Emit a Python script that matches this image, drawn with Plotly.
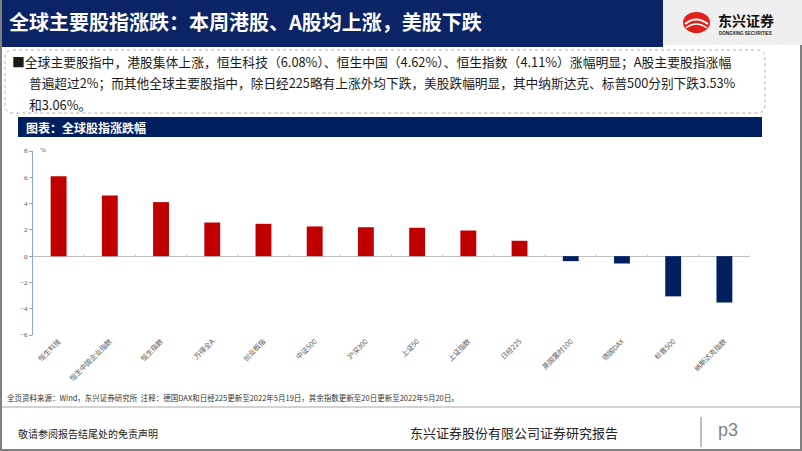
import plotly.graph_objects as go

categories = ["恒生科技", "恒生中国企业指数", "恒生指数", "万得全A", "创业板指", "中证500",
              "沪深300", "上证50", "上证指数", "日经225", "英国富时100", "德国DAX", "标普500", "纳斯达克指数"]
changes = [6.08, 4.62, 4.11, 2.56, 2.46, 2.26, 2.20, 2.16, 1.95, 1.17, -0.38, -0.56, -3.06, -3.53]
y_ticks = [-6, -4, -2, 0, 2, 4, 6, 8]

RED = "#C00000"
NAVY = "#002060"
W, H = 802, 451
L, R, T, B = 33, 52, 151, 116
PW, PH = W - L - R, H - T - B

def px(x):
    return (x - L) / PW

def py(y):
    return (H - B - y) / PH

CJK = "Noto Sans CJK SC"
SERIF = "Liberation Serif"

colors = [RED if v >= 0 else NAVY for v in changes]

fig = go.Figure()
fig.add_trace(go.Bar(x=categories, y=changes, marker=dict(color=colors, line=dict(width=0)),
                     width=0.31, hoverinfo="x+y"))

shapes = []
annotations = []

# header band
shapes.append(dict(type="rect", xref="paper", yref="paper", x0=px(0), x1=px(663), y0=py(47), y1=py(0),
                   fillcolor="#0B2466", line=dict(width=0), layer="below"))
shapes.append(dict(type="rect", xref="paper", yref="paper", x0=px(663), x1=px(802), y0=py(45), y1=py(0),
                   fillcolor="#EFEFEF", line=dict(width=0), layer="below"))
annotations.append(dict(text="<b>全球主要股指涨跌：本周港股、A股均上涨，美股下跌</b>", xref="paper", yref="paper",
                        x=px(7), y=py(21), xanchor="left", yanchor="middle", showarrow=False,
                        font=dict(family=CJK, size=20, color="white")))
# logo
shapes.append(dict(type="circle", xref="paper", yref="paper", x0=px(683), x1=px(710), y0=py(33), y1=py(12),
                   fillcolor="#E0201B", line=dict(width=0)))
shapes.append(dict(type="path", xref="paper", yref="paper",
                   path=f"M {px(685)},{py(24)} Q {px(696)},{py(15)} {px(708)},{py(24)}",
                   line=dict(color="white", width=2)))
shapes.append(dict(type="path", xref="paper", yref="paper",
                   path=f"M {px(686)},{py(28)} Q {px(696)},{py(20)} {px(707)},{py(28)}",
                   line=dict(color="white", width=1.5)))
annotations.append(dict(text="<b>东兴证券</b>", xref="paper", yref="paper", x=px(716), y=py(20),
                        xanchor="left", yanchor="middle", showarrow=False,
                        font=dict(family=CJK, size=14, color="#111111")))
annotations.append(dict(text="<b>DONGXING SECURITIES</b>", xref="paper", yref="paper", x=px(717), y=py(34),
                        xanchor="left", yanchor="middle", showarrow=False,
                        font=dict(family="Liberation Sans", size=4.5, color="#222222")))

# text box with dashed rounded border
x0b, x1b, y0b, y1b, rr = 5, 765, 50, 113, 8
path = (f"M {px(x0b+rr)},{py(y0b)} L {px(x1b-rr)},{py(y0b)} Q {px(x1b)},{py(y0b)} {px(x1b)},{py(y0b+rr)} "
        f"L {px(x1b)},{py(y1b-rr)} Q {px(x1b)},{py(y1b)} {px(x1b-rr)},{py(y1b)} "
        f"L {px(x0b+rr)},{py(y1b)} Q {px(x0b)},{py(y1b)} {px(x0b)},{py(y1b-rr)} "
        f"L {px(x0b)},{py(y0b+rr)} Q {px(x0b)},{py(y0b)} {px(x0b+rr)},{py(y0b)} Z")
shapes.append(dict(type="path", xref="paper", yref="paper", path=path,
                   line=dict(color="#B0B0B0", width=1, dash="dot")))
lines = [
    "■全球主要股指中，港股集体上涨，恒生科技（6.08%）、恒生中国（4.62%）、恒生指数（4.11%）涨幅明显；A股主要股指涨幅",
    "普遍超过2%；而其他全球主要股指中，除日经225略有上涨外均下跌，美股跌幅明显，其中纳斯达克、标普500分别下跌3.53%",
    "和3.06%。",
]
line_x = [10, 27, 27]
line_y = [61, 83, 104]
line_size = [12.8, 12.7, 12.8]
for t, lx, ly, fs in zip(lines, line_x, line_y, line_size):
    annotations.append(dict(text=t, xref="paper", yref="paper", x=px(lx), y=py(ly), xanchor="left",
                            yanchor="middle", showarrow=False,
                            font=dict(family=CJK, size=fs, color="#1a1a1a")))

# chart title band
shapes.append(dict(type="rect", xref="paper", yref="paper", x0=px(18), x1=px(762), y0=py(137), y1=py(117),
                   fillcolor="#001F5F", line=dict(width=0), layer="below"))
annotations.append(dict(text="<b>图表：全球股指涨跌幅</b>", xref="paper", yref="paper", x=px(24), y=py(127),
                        xanchor="left", yanchor="middle", showarrow=False,
                        font=dict(family=CJK, size=12, color="white")))

# % label
annotations.append(dict(text="%", xref="paper", yref="paper", x=px(38), y=py(150), xanchor="left",
                        yanchor="middle", showarrow=False, font=dict(family=SERIF, size=7, color="#555555")))

# small ticks on zero line between categories
for i in range(len(categories) + 1):
    shapes.append(dict(type="line", xref="x", yref="y", x0=i - 0.5, x1=i - 0.5, y0=0, y1=0.12,
                       line=dict(color="#BFBFBF", width=1)))

# source + footer
annotations.append(dict(text="全页资料来源：Wind，东兴证券研究所  注释：德国DAX和日经225更新至2022年5月19日，其余指数更新至20日更新至2022年5月20日。",
                        xref="paper", yref="paper", x=px(5), y=py(397), xanchor="left", yanchor="middle",
                        showarrow=False, font=dict(family=CJK, size=7.5, color="#333333")))
shapes.append(dict(type="line", xref="paper", yref="paper", x0=px(0), x1=px(802), y0=py(407), y1=py(407),
                   line=dict(color="#A6A6A6", width=1)))
annotations.append(dict(text="敬请参阅报告结尾处的免责声明", xref="paper", yref="paper", x=px(16), y=py(433),
                        xanchor="left", yanchor="middle", showarrow=False,
                        font=dict(family=CJK, size=10, color="#222222")))
annotations.append(dict(text="东兴证券股份有限公司证券研究报告", xref="paper", yref="paper", x=px(408), y=py(432),
                        xanchor="left", yanchor="middle", showarrow=False,
                        font=dict(family=CJK, size=13, color="#222222")))
shapes.append(dict(type="line", xref="paper", yref="paper", x0=px(701), x1=px(701), y0=py(447), y1=py(417),
                   line=dict(color="#7F7F7F", width=1)))
annotations.append(dict(text="p3", xref="paper", yref="paper", x=px(716), y=py(430), xanchor="left",
                        yanchor="middle", showarrow=False,
                        font=dict(family="Liberation Sans", size=18, color="#7F7F7F")))
# page borders
shapes.append(dict(type="line", xref="paper", yref="paper", x0=px(1), x1=px(1), y0=py(0), y1=py(451),
                   line=dict(color="#808080", width=2)))
shapes.append(dict(type="line", xref="paper", yref="paper", x0=px(801), x1=px(801), y0=py(45), y1=py(451),
                   line=dict(color="#808080", width=2)))
shapes.append(dict(type="line", xref="paper", yref="paper", x0=px(0), x1=px(802), y0=py(450), y1=py(450),
                   line=dict(color="#808080", width=2)))

fig.update_layout(
    width=W, height=H, margin=dict(l=L, r=R, t=T, b=B, pad=0),
    paper_bgcolor="white", plot_bgcolor="white", showlegend=False, bargap=0.69,
    shapes=shapes, annotations=annotations,
    xaxis=dict(type="category", tickangle=-45, showgrid=False, showline=False, ticks="",
               tickfont=dict(family=CJK, size=7, color="#595959"), range=[-0.5, len(categories) - 0.5],
               fixedrange=True),
    yaxis=dict(range=[-6, 8], tickvals=y_ticks, showgrid=False, showline=True, linecolor="#8EA6C9",
               linewidth=1, ticks="outside", ticklen=3, tickcolor="#8EA6C9",
               tickfont=dict(family=SERIF, size=7, color="#555555"),
               zeroline=True, zerolinecolor="#BFBFBF", zerolinewidth=1, fixedrange=True),
)

fig.write_html("out.html")
